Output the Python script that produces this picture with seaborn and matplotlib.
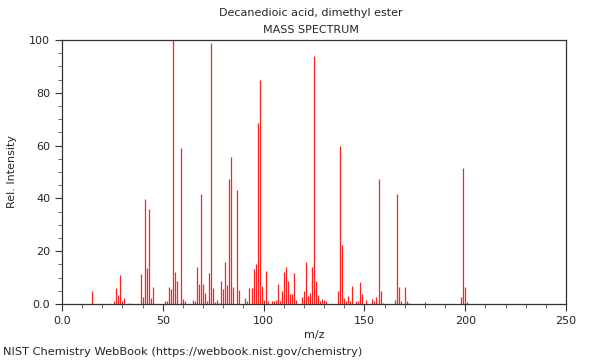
import numpy as np
import pandas as pd
import seaborn as sns
import matplotlib
matplotlib.use("Agg")
import matplotlib.pyplot as plt
from matplotlib.ticker import MultipleLocator, FixedFormatter, FixedLocator

# Peaks (m/z, relative intensity)
mz = [15, 26, 27, 28, 29, 30, 31, 33, 39, 40, 41, 42, 43, 44, 45,
      51, 52, 53, 54, 55, 56, 57, 59, 60, 61, 65, 66, 67, 68, 69,
      70, 71, 72, 73, 74, 75, 76, 77, 78, 79, 80, 81, 82, 83, 84,
      85, 87, 88, 91, 92, 93, 94, 95, 96, 97, 98, 99, 100, 101, 102,
      104, 105, 106, 107, 108, 109, 110, 111, 112, 113, 114, 115, 116,
      119, 120, 121, 122, 123, 124, 125, 126, 127, 128, 129, 130, 131,
      137, 138, 139, 140, 141, 142, 143, 144, 146, 147, 148, 149, 151,
      154, 155, 156, 157, 158, 159, 165, 166, 167, 168, 170, 171, 172,
      180, 198, 199, 200, 201]
intensity = [5, 1, 6.2, 3.5, 10.9, 1, 2.3, 0.5, 11.4, 2.6, 39.8, 13.6, 36, 2.2, 6.6,
             1, 1, 6.6, 5.6, 100, 12, 8.8, 59, 2, 1, 1.6, 1, 14, 7.6, 41.8,
             7.7, 4.3, 1.3, 11.6, 98.7, 6, 0.8, 1.6, 0.5, 8.7, 5.8, 15.8, 7.2, 47.3, 55.7,
             6.4, 43.2, 5.3, 2.4, 1, 6.2, 6, 13.1, 15.2, 68.4, 84.7, 6.9, 1.4, 12.5, 1,
             1, 1, 1.6, 7.7, 1, 4.8, 12, 14, 8.8, 3.9, 3.8, 11.6, 1.5,
             2.8, 4.9, 15.9, 3.2, 4, 14.1, 93.8, 8.7, 3.4, 1, 1.8, 1.5, 1,
             5, 60, 22.3, 2.4, 1.3, 3.2, 1, 6.8, 1, 1, 8.3, 3.7, 1.5,
             1.9, 1.3, 2.6, 47.2, 4.9, 0.5, 1.6, 41.7, 6.3, 1, 6.4, 1.2, 0.5,
             0.8, 2.5, 51.4, 6.6, 0.9]

x_ticks = [0, 50, 100, 150, 200, 250]
x_labels = ["0.0", "50", "100", "150", "200", "250"]
y_ticks = [0, 20, 40, 60, 80, 100]
y_labels = ["0.0", "20", "40", "60", "80", "100"]

df = pd.DataFrame({"mz": mz, "intensity": intensity})

sns.set_style("ticks")
plt.rcParams["font.family"] = ["DejaVu Sans"]

fig = plt.figure(figsize=(6, 3.6), dpi=100)
ax = fig.add_axes([62 / 600, 1 - 304 / 360, 504 / 600, 264 / 360])

# stick spectrum
ax.vlines(df["mz"], 0, df["intensity"], color="#ff2020", linewidth=0.9)

ax.set_xlim(0, 250)
ax.set_ylim(0, 100)
ax.xaxis.set_major_locator(FixedLocator(x_ticks))
ax.xaxis.set_major_formatter(FixedFormatter(x_labels))
ax.xaxis.set_minor_locator(MultipleLocator(10))
ax.yaxis.set_major_locator(FixedLocator(y_ticks))
ax.yaxis.set_major_formatter(FixedFormatter(y_labels))
ax.yaxis.set_minor_locator(MultipleLocator(5))

ax.tick_params(which="major", length=5, width=0.8, labelsize=8, color="#333333")
ax.tick_params(which="minor", length=3, width=0.6, color="#555555")
for s in ax.spines.values():
    s.set_color("#333333")
    s.set_linewidth(0.9)

ax.set_xlabel("m/z", fontsize=8, labelpad=3)
ax.set_ylabel("Rel. Intensity", fontsize=8, labelpad=9)

fig.text(0.5 + 11 / 600, 1 - 13 / 360, "Decanedioic acid, dimethyl ester",
         ha="center", va="center", fontsize=8)
fig.text(0.5 + 11 / 600, 1 - 30 / 360, "MASS SPECTRUM",
         ha="center", va="center", fontsize=8)
fig.text(3 / 600, 1 - 352 / 360,
         "NIST Chemistry WebBook (https://webbook.nist.gov/chemistry)",
         ha="left", va="center", fontsize=8.2)

fig.savefig("out.png", dpi=100)
